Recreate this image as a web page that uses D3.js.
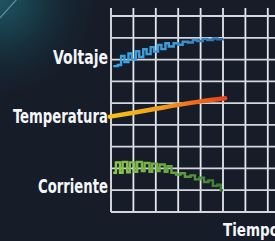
<!DOCTYPE html>
<html>
<head>
<meta charset="utf-8">
<script src="https://cdn.jsdelivr.net/npm/d3@7"></script>
<style>
  html, body { margin: 0; padding: 0; background: #161c28; overflow: hidden; }
  .label { font-family: "DejaVu Sans Condensed", "DejaVu Sans", sans-serif; font-weight: bold; font-stretch: condensed; fill: #f4f6fa; }
</style>
</head>
<body>
<div id="vis"></div>
<script>
// grid ticks (time units / level units)
let xTicks = [0, 1, 2, 3, 4, 5, 6, 7];
let yTicks = [0, 1, 2, 3, 4, 5, 6, 7, 8, 9];

// series labels
let seriesNames = ['Voltaje', 'Temperatura', 'Corriente'];
let labelLevels = [7.1, 4.39, 1.18];
let labelWidths = [55, 95, 70];

// voltaje: pulsed signal, settles near the top
let voltT = [0.1, 0.3, 0.45, 0.6, 0.78, 0.93, 1.11, 1.26, 1.44, 1.59, 1.77, 1.92, 2.1, 2.25, 2.43,
  2.58, 2.8, 3.0, 3.2, 3.45, 3.65, 3.85, 4.1, 4.3, 4.55, 4.75, 5.0];
let voltV = [6.7, 6.75, 7.17, 6.88, 7.28, 7.0, 7.38, 7.12, 7.47, 7.25, 7.57, 7.37, 7.67, 7.48, 7.75,
  7.6, 7.75, 7.68, 7.82, 7.78, 7.9, 7.85, 7.95, 7.9, 7.97, 7.93, 7.95];

// temperatura: smooth rising line
let tempT = [-0.05, 1, 2, 3, 4, 5.1];
let tempV = [4.38, 4.56, 4.74, 4.92, 5.08, 5.22];

// corriente: pulsed signal falling off
let currT = [0.1, 0.22, 0.4, 0.52, 0.72, 0.84, 1.05, 1.17, 1.38, 1.5, 1.72, 1.84, 2.05, 2.17,
  2.4, 2.52, 2.7, 2.9, 3.1, 3.3, 3.55, 3.75, 3.95, 4.15, 4.35, 4.55, 4.75, 4.9, 5.0];
let currV = [1.8, 2.28, 1.8, 2.3, 1.82, 2.28, 1.85, 2.3, 1.88, 2.25, 1.85, 2.22, 1.88, 2.18,
  1.85, 2.1, 1.8, 1.72, 1.78, 1.62, 1.68, 1.5, 1.58, 1.38, 1.45, 1.2, 1.25, 1.0, 1.0];

let width = 275;
let height = 241;

let svg = d3.select('#vis').append('svg')
  .attr('width', width)
  .attr('height', height);

let defs = svg.append('defs');

// teal glow in the corner
let glow = defs.append('radialGradient')
  .attr('id', 'corner-glow')
  .attr('cx', 0).attr('cy', 0).attr('r', 1);
glow.append('stop').attr('offset', '0%').attr('stop-color', '#1e5563');
glow.append('stop').attr('offset', '45%').attr('stop-color', '#17303d');
glow.append('stop').attr('offset', '100%').attr('stop-color', '#161c28').attr('stop-opacity', 0);

svg.append('rect')
  .attr('width', width).attr('height', height)
  .attr('fill', '#161c28');
svg.append('rect')
  .attr('width', 110).attr('height', 110)
  .attr('fill', 'url(#corner-glow)');
svg.append('line')
  .attr('x1', -2).attr('y1', 20).attr('x2', 18).attr('y2', -2)
  .attr('stroke', '#9fc7cc').attr('stroke-opacity', 0.55).attr('stroke-width', 1.2);

let x = d3.scaleLinear().domain([0, 1]).range([111, 133.4]);
let y = d3.scaleLinear().domain([0, 9]).range([212, 16]);

let g = svg.append('g');

// grid
g.selectAll('.vline')
  .data(xTicks)
  .join('line')
  .attr('class', 'vline')
  .attr('x1', d => x(d)).attr('x2', d => x(d))
  .attr('y1', y(0)).attr('y2', y(9.37))
  .attr('stroke', '#e4e7ec')
  .attr('stroke-width', 1.8);

g.selectAll('.hline')
  .data(yTicks)
  .join('line')
  .attr('class', 'hline')
  .attr('x1', x(0)).attr('x2', width)
  .attr('y1', d => y(d)).attr('y2', d => y(d))
  .attr('stroke', '#d4d8de')
  .attr('stroke-width', 1.8);

// gradients for the lines
function addGradient(id, t0, t1, stops) {
  let grad = defs.append('linearGradient')
    .attr('id', id)
    .attr('gradientUnits', 'userSpaceOnUse')
    .attr('x1', x(t0)).attr('x2', x(t1))
    .attr('y1', 0).attr('y2', 0);
  stops.forEach(s => grad.append('stop').attr('offset', s[0]).attr('stop-color', s[1]));
}
addGradient('temp-grad', 0, 5.1, [['0%', '#f7c21c'], ['45%', '#f39a1e'], ['100%', '#e8401c']]);
addGradient('curr-grad', 0, 5.0, [['0%', '#8cc84b'], ['50%', '#6aa83e'], ['100%', '#3a7a34']]);
addGradient('volt-grad', 0, 5.0, [['0%', '#3aa2e2'], ['55%', '#3d9bd6'], ['100%', '#2f6fa6']]);

let blur = defs.append('filter').attr('id', 'soft')
  .attr('x', '-10%').attr('y', '-50%').attr('width', '120%').attr('height', '200%');
blur.append('feGaussianBlur').attr('stdDeviation', 0.6);

let stepLine = d3.line()
  .curve(d3.curveStepAfter)
  .x(d => x(d[0]))
  .y(d => y(d[1]));

let smoothLine = d3.line()
  .curve(d3.curveMonotoneX)
  .x(d => x(d[0]))
  .y(d => y(d[1]));

let voltData = d3.zip(voltT, voltV);
let tempData = d3.zip(tempT, tempV);
let currData = d3.zip(currT, currV);

g.append('path')
  .attr('d', stepLine(voltData))
  .attr('fill', 'none')
  .attr('stroke', 'url(#volt-grad)')
  .attr('stroke-width', 2.4)
  .attr('filter', 'url(#soft)');

g.append('path')
  .attr('d', smoothLine(tempData))
  .attr('fill', 'none')
  .attr('stroke', 'url(#temp-grad)')
  .attr('stroke-width', 4.5)
  .attr('stroke-linecap', 'round')
  .attr('filter', 'url(#soft)');

g.append('path')
  .attr('d', stepLine(currData))
  .attr('fill', 'none')
  .attr('stroke', 'url(#curr-grad)')
  .attr('stroke-width', 2.4)
  .attr('filter', 'url(#soft)');

// labels
g.selectAll('.label')
  .data(seriesNames)
  .join('text')
  .attr('class', 'label')
  .attr('x', 108)
  .attr('y', (d, i) => y(labelLevels[i]))
  .attr('dy', '0.35em')
  .attr('text-anchor', 'end')
  .attr('font-size', 19)
  .attr('textLength', (d, i) => labelWidths[i])
  .attr('lengthAdjust', 'spacingAndGlyphs')
  .text(d => d);

svg.append('text')
  .attr('class', 'label')
  .attr('x', 223)
  .attr('y', 236)
  .attr('font-size', 18)
  .attr('textLength', 56)
  .attr('lengthAdjust', 'spacingAndGlyphs')
  .text('Tiempo');
</script>
</body>
</html>
